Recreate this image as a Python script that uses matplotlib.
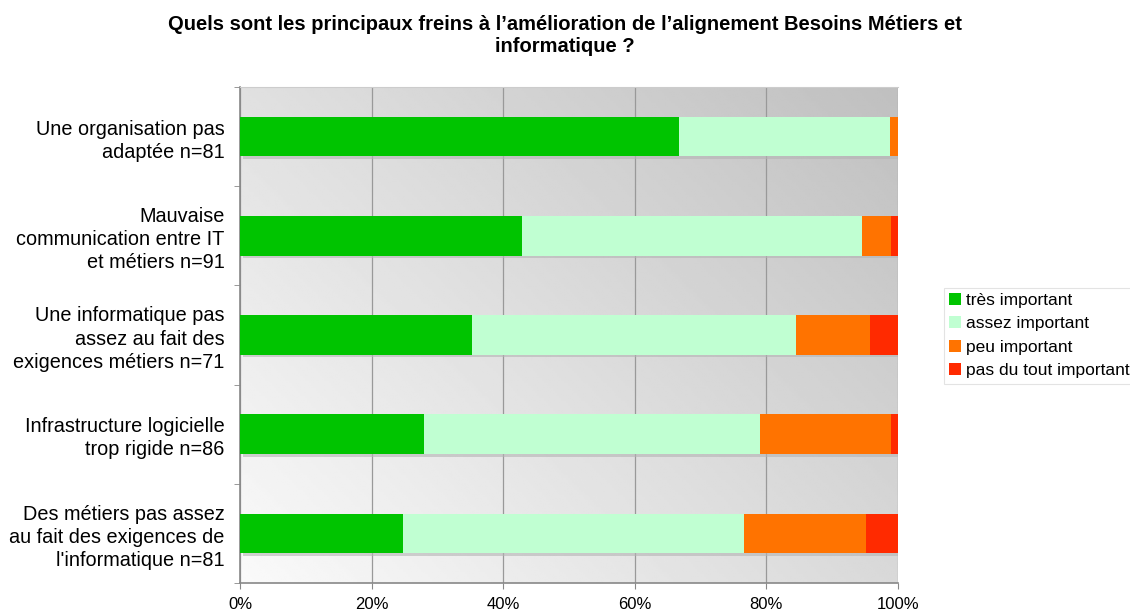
import numpy as np
import matplotlib
matplotlib.use('Agg')
import matplotlib.pyplot as plt
from matplotlib.patches import Patch

plt.rcParams['font.family'] = ['Liberation Sans', 'DejaVu Sans']

# data (percent of respondents)
categories = [
  'Une organisation pas\nadaptée n=81',
  'Mauvaise\ncommunication entre IT\net métiers n=91',
  'Une informatique pas\nassez au fait des\nexigences métiers n=71',
  'Infrastructure logicielle\ntrop rigide n=86',
  'Des métiers pas assez\nau fait des exigences de\nl\'informatique n=81',
]
tres_important = [66.7, 42.9, 35.2, 27.9, 24.7]
assez_important = [32.1, 51.6, 49.3, 51.2, 51.9]
peu_important = [1.2, 4.4, 11.3, 19.8, 18.5]
pas_important = [0.0, 1.1, 4.2, 1.2, 4.9]

series = [
  ('très important', tres_important, '#00c400'),
  ('assez important', assez_important, '#c0ffd2'),
  ('peu important', peu_important, '#ff7300'),
  ('pas du tout important', pas_important, '#ff2a00'),
]
x_ticks = [0, 20, 40, 60, 80, 100]
x_labels = ['0%', '20%', '40%', '60%', '80%', '100%']

fig = plt.figure(figsize=(11.3, 6.12), dpi=100)
ax = fig.add_axes([0.2124, 0.0474, 0.5823, 0.8104])

ypos = np.arange(len(categories))

# background gradient
gx, gy = np.meshgrid(np.linspace(0, 1, 300), np.linspace(0, 1, 200))
grad = 0.98 - 0.13 * gx - 0.10 * gy
ax.imshow(grad, cmap='gray', vmin=0, vmax=1, origin='lower', aspect='auto',
          extent=[0, 100, len(categories) - 0.5, -0.5], zorder=0)

# shadows
totals = [sum(v) for v in zip(tres_important, assez_important, peu_important, pas_important)]
ax.barh(ypos + 0.025, totals, left=0.4, height=0.4, color='#b4b4b4', alpha=0.6,
        zorder=2, linewidth=0)

left = np.zeros(len(categories))
for name, vals, col in series:
  ax.barh(ypos, vals, left=left, height=0.4, color=col, zorder=3, linewidth=0)
  left += np.array(vals)

ax.set_xlim(0, 100)
ax.set_ylim(len(categories) - 0.5, -0.5)
ax.set_xticks(x_ticks)
ax.set_xticklabels(x_labels, fontsize=12)
ax.set_yticks(ypos)
ax.set_yticklabels(categories, fontsize=14.3, linespacing=1.27)
ax.set_yticks(np.arange(len(categories) + 1) - 0.5, minor=True)
ax.tick_params(axis='y', which='major', length=0, pad=11)
ax.tick_params(axis='y', which='minor', length=4, color='#888888', direction='out')
ax.tick_params(axis='x', length=4, color='#888888', pad=6)
ax.grid(axis='x', color='#999999', linewidth=0.9, zorder=1)
ax.set_axisbelow(True)
for s in ['left', 'bottom']:
  ax.spines[s].set_color('#888888')
  ax.spines[s].set_linewidth(1.2)
ax.spines['top'].set_color('#cccccc')
ax.spines['right'].set_visible(False)

fig.suptitle('Quels sont les principaux freins à l’amélioration de l’alignement Besoins Métiers et\ninformatique ?',
             x=0.5, y=0.975, fontsize=14.5, fontweight='bold', linespacing=1.2)

handles = [Patch(facecolor=c, edgecolor='none', label=n) for n, v, c in series]
leg = fig.legend(handles=handles, loc='upper left', bbox_to_anchor=(0.835, 0.53),
                 fontsize=12.5, frameon=True, fancybox=False, handlelength=0.7,
                 handleheight=0.7, handletextpad=0.3, labelspacing=0.48,
                 borderpad=0.3, borderaxespad=0)
leg.get_frame().set_edgecolor('#dddddd')
leg.get_frame().set_linewidth(0.8)

fig.savefig('out.png', dpi=100)
